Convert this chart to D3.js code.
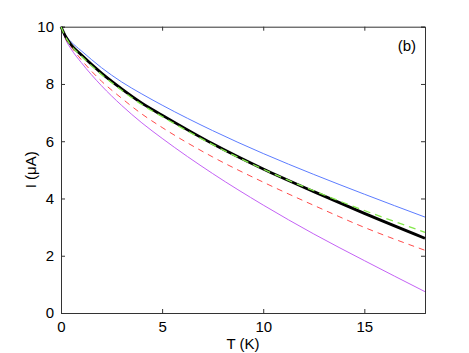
<!DOCTYPE html>
<html>
<head>
<meta charset="utf-8">
<script src="https://cdn.jsdelivr.net/npm/d3@7"></script>
<style>
  body { margin: 0; background: #fff; }
  text { font-family: "Liberation Sans", Arial, sans-serif; }
</style>
</head>
<body>
<div id="chart"></div>
<script>
// temperatures (K) where the curves were read
var temps = [0, 0.25, 0.5, 1, 2, 3, 4, 5, 7.5, 10, 12.5, 15, 18];

// current (uA) for each curve
var blueI   = [10, 9.67, 9.47, 9.16, 8.57, 8.07, 7.65, 7.26, 6.37, 5.57, 4.84, 4.15, 3.35];
var blackI  = [10, 9.63, 9.37, 9.02, 8.38, 7.83, 7.33, 6.91, 5.91, 5.03, 4.24, 3.48, 2.61];
var greenI  = [10, 9.61, 9.34, 8.98, 8.33, 7.78, 7.28, 6.86, 5.88, 5.02, 4.27, 3.58, 2.82];
var redI    = [10, 9.55, 9.30, 8.85, 8.10, 7.50, 6.95, 6.48, 5.45, 4.57, 3.76, 2.99, 2.19];
var purpleI = [10, 9.52, 9.22, 8.75, 7.94, 7.25, 6.64, 6.10, 4.87, 3.77, 2.76, 1.83, 0.745];

var xTicks = [0, 5, 10, 15];
var yTicks = [0, 2, 4, 6, 8, 10];

var margin = {top: 26.7, right: 44, bottom: 40, left: 61};
var viewWidth = 469, viewHeight = 353;
var width = viewWidth - margin.left - margin.right;
var height = viewHeight - margin.top - margin.bottom;

var svg = d3.select("#chart").append("svg")
    .attr("width", viewWidth)
    .attr("height", viewHeight)
  .append("g")
    .attr("transform", "translate(" + margin.left + "," + margin.top + ")");

var x = d3.scaleLinear().domain([0, 18]).range([0, width]);
var y = d3.scaleLinear().domain([0, 10]).range([height, 0]);

// matlab style: ticks point inwards, box on all four sides
var xAxis = d3.axisBottom(x).tickValues(xTicks).tickSize(-4).tickPadding(8);
var yAxis = d3.axisLeft(y).tickValues(yTicks).tickSize(-4).tickPadding(7);

svg.append("g")
    .attr("class", "x axis")
    .attr("transform", "translate(0," + height + ")")
    .call(xAxis);

svg.append("g")
    .attr("class", "y axis")
    .call(yAxis);

svg.append("g")
    .call(d3.axisTop(x).tickValues(xTicks).tickSize(-4).tickFormat(""));

svg.append("g")
    .attr("transform", "translate(" + width + ",0)")
    .call(d3.axisRight(y).tickValues(yTicks).tickSize(-4).tickFormat(""));

svg.selectAll(".domain").attr("stroke", "#333");
svg.selectAll(".tick line").attr("stroke", "#333");
svg.selectAll(".tick text")
    .style("font-size", "15px")
    .attr("fill", "#000");

var curves = [
  {vals: purpleI, color: "#c462f5", w: 1,   dash: null},
  {vals: redI,    color: "#ff4a4a", w: 1,   dash: "6,5"},
  {vals: greenI,  color: "#84e84c", w: 1.3, dash: "7,5"},
  {vals: blackI,  color: "#000",    w: 2.8, dash: null},
  {vals: blueI,   color: "#5c7cff", w: 1,   dash: null}
];

var line = d3.line()
    .x(function(d) { return x(d[0]); })
    .y(function(d) { return y(d[1]); })
    .curve(d3.curveMonotoneX);

// green dashes drawn last so they peek out beside the black line
var order = [0, 1, 4, 3, 2];
order.forEach(function(i) {
  var c = curves[i];
  svg.append("path")
      .datum(temps.map(function(t, k) { return [t, c.vals[k]]; }))
      .attr("fill", "none")
      .attr("stroke", c.color)
      .attr("stroke-width", c.w)
      .attr("stroke-dasharray", c.dash)
      .attr("d", line);
});

svg.append("text")
    .attr("x", width / 2)
    .attr("y", height + 36)
    .style("text-anchor", "middle")
    .style("font-size", "15px")
    .text("T (K)");

svg.append("text")
    .attr("transform", "rotate(-90)")
    .attr("x", -height / 2)
    .attr("y", -25)
    .style("text-anchor", "middle")
    .style("font-size", "15px")
    .text("I (\u03bcA)");

svg.append("text")
    .attr("x", width - 9)
    .attr("y", 24)
    .style("text-anchor", "end")
    .style("font-size", "15px")
    .text("(b)");
</script>
</body>
</html>
